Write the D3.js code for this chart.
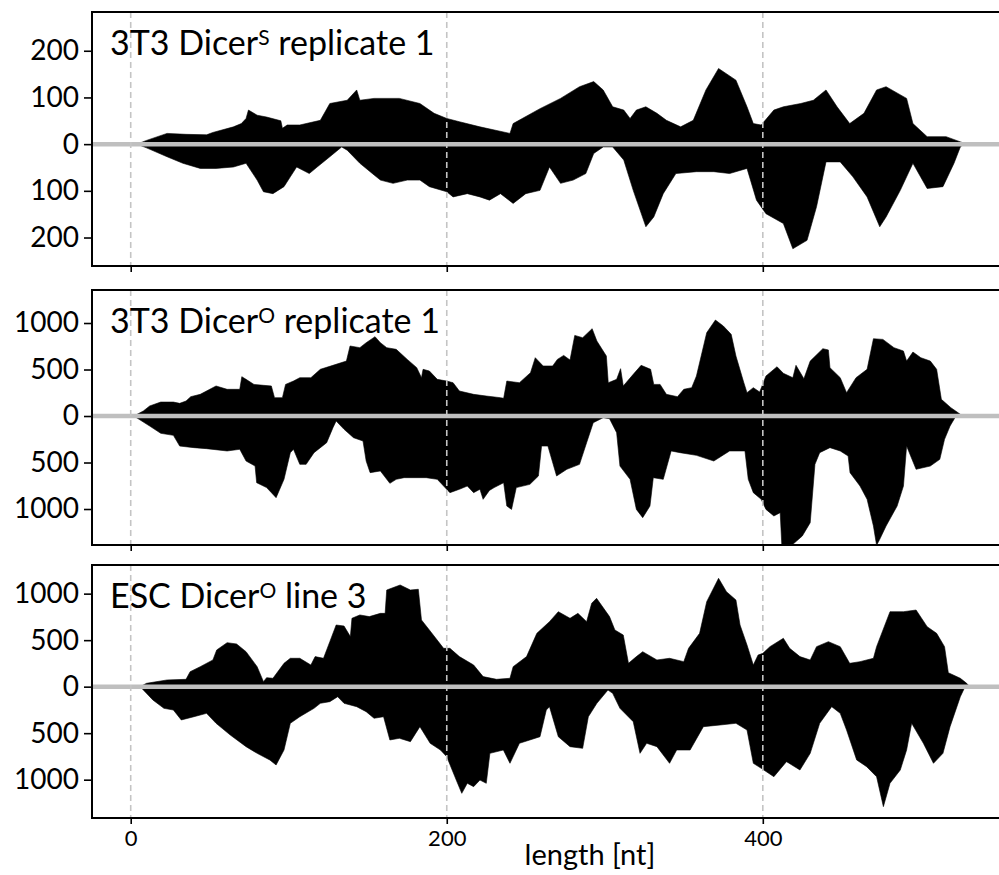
<!DOCTYPE html>
<html>
<head>
<meta charset="utf-8">
<script src="https://cdn.jsdelivr.net/npm/d3@7"></script>
<style>
  body { margin: 0; background: #fff; }
  svg { display: block; font-family: Lato, 'Open Sans', sans-serif; }
</style>
</head>
<body>
<div id="chart"></div>
<script>
// read counts per position [nt, reads]; lower strand stored as positive counts
const dicerSUpper = [[0,0],[4,0],[10,8],[23,23],[35,21],[48,20],[52,25],[65,37],[70,44],[73,55],[74.5,73],[80,62],[86,58],[95,50],[96,34],[99,41],[107,41],[120,51],[126,87],[137,94],[143,116],[145,94],[154,98],[170,98],[183,87],[192,66],[200,55],[208,48],[221,37],[240,23],[242,44],[259,76],[272,98],[284,123],[293,134],[299,116],[305,80],[312,73],[316,55],[320,73],[326,80],[333,66],[339,51],[348,37],[356,51],[364,116],[372,162],[383,137],[390,80],[394,44],[399,41],[407,73],[413,80],[424,87],[432,94],[440,116],[447,80],[455,44],[464,66],[472,116],[478,123],[491,98],[495,44],[504,16],[516,16],[529,0]];
const dicerSLower = [[0,0],[4,0],[10,8],[23,27],[33,41],[44,52],[54,52],[65,49],[73,41],[80,77],[84,102],[90,106],[97,91],[101,70],[105,49],[109,56],[113,63],[118,49],[126,27],[133.5,6],[137,13],[145,41],[154,66],[158,77],[166,84],[175,77],[183,77],[189,91],[200,102],[204,113],[213,106],[221,113],[227,120],[234,106],[242,127],[250,106],[259,99],[265,49],[272,84],[280,77],[288,63],[293,20],[299,6],[305,6],[312,34],[318,99],[326,177],[331,156],[337,106],[345,63],[358,59],[369,59],[379,63],[390,52],[396,120],[402,149],[413,170],[419,224],[428,206],[434,134],[440,38],[449,38],[457,70],[466,113],[474,177],[478,156],[487,99],[495,41],[504,95],[514,91],[521,41],[525,6],[527,0]];

const dicerOUpper = [[0,0],[2,0],[8,54],[12,108],[19,150],[27,150],[31,136],[35,161],[38,208],[44,233],[54,323],[61,287],[69,287],[70.3,423],[73,394],[78,340],[84,330],[89,323],[91,197],[96,197],[98,340],[103,376],[107,412],[114,412],[120,502],[128,545],[136.5,591],[138.8,753],[145,735],[149,788],[154.6,853],[158,788],[162,735],[168,717],[175,609],[181,520],[184,412],[185,502],[189,484],[194,394],[200,376],[204,358],[208,269],[217,233],[225,215],[234,197],[236,190],[238,376],[246,358],[253,466],[256,627],[261,538],[267,538],[270,609],[274,652],[278,602],[281,867],[286,842],[292,939],[295,806],[301,645],[302.2,358],[307.5,394],[310,509],[311.7,323],[318,448],[323,545],[329,502],[331,340],[335,340],[339,233],[346,208],[350,287],[355,305],[358,430],[361,645],[364.5,896],[370,1032],[375,968],[380,878],[383,645],[388,358],[390,251],[394,305],[398,258],[402,430],[409,530],[413,459],[419,412],[421,545],[426,401],[430,591],[438,724],[441.5,710],[442.5,520],[449,412],[453,251],[459,412],[466,502],[470,831],[476,824],[483,735],[489,699],[491,591],[495,688],[500,627],[506,591],[510,502],[513,179],[519,90],[525,18],[527,0]];
const dicerOLower = [[0,0],[2,0],[12,108],[19,186],[27,208],[31,323],[40,340],[48,351],[61,376],[69,358],[73,484],[78.7,538],[79.7,717],[86,770],[92,878],[97,681],[101,394],[103,358],[107,520],[111,520],[116,394],[124,287],[128,125],[130,54],[135,143],[141,233],[147,269],[149,484],[151.5,609],[158,591],[164,724],[168,681],[173,663],[187,663],[194,681],[198,753],[202,824],[208,788],[213,753],[217,824],[221,788],[223,896],[227,800],[230,770],[236,717],[238,968],[241,1004],[244,770],[252.6,735],[258,645],[260,323],[264,323],[269.5,645],[276,573],[284,520],[288.5,287],[292.7,72],[299,18],[303,29],[307.5,179],[309.6,538],[316,681],[320,1004],[324,1093],[328.6,968],[330.7,663],[337,681],[342,376],[347.6,394],[358,423],[369,484],[379,376],[388.7,376],[390.8,681],[394,824],[399,896],[402,1004],[407,1075],[411,1039],[412,1380],[419,1380],[425,1290],[430,1147],[433,520],[436,394],[442.5,340],[449,376],[454,430],[455.2,609],[461.5,753],[466,896],[470,1183],[472,1390],[474,1326],[478,1183],[485,968],[489,753],[491,323],[497,573],[506,538],[512,466],[515,251],[518.5,108],[521.6,18],[523,0]];

const escUpper = [[0,0],[6,0],[10,36],[23,72],[35,79],[37.6,161],[44,215],[52,287],[54.4,394],[61,473],[67,459],[73,376],[80,215],[84,54],[86,97],[90,90],[97,251],[101,305],[107,305],[114,233],[116.7,323],[122,305],[126,484],[130,663],[135,652],[139,538],[140,735],[145,771],[151,753],[158,788],[161,788],[162,1039],[170.5,1093],[177,1039],[182,1047],[184,717],[189,609],[198,412],[202,412],[208,323],[217,233],[223,108],[231.5,79],[240,90],[242,215],[250.5,323],[257,573],[265,699],[270.6,806],[278,735],[283,788],[288.5,699],[291.7,896],[294.8,950],[303,753],[306.4,609],[311.7,555],[315,251],[320,323],[324,376],[333,287],[341,305],[350,269],[353,412],[360,573],[364.5,914],[372,1165],[377,1021],[383,932],[385.6,663],[390,448],[394,233],[397,340],[400,358],[404.5,430],[413,520],[417,412],[423.5,323],[430,287],[434,430],[441.5,484],[449,430],[455,251],[461.5,269],[470,305],[472,430],[480.5,806],[489,806],[497,824],[504,645],[510,573],[515,430],[517.4,150],[525,90],[529,36],[531,0]];
const escLower = [[0,0],[6,0],[14,143],[21,233],[27,251],[32,358],[40,323],[48,287],[54,394],[63,520],[73,645],[80,717],[88,788],[92,842],[97,681],[101,394],[107,323],[116,233],[120,179],[126,161],[131,108],[135,179],[143,215],[149,269],[154,340],[160,323],[164,573],[170,555],[177,591],[183,430],[189.5,609],[196,681],[200,753],[206,1004],[209.5,1147],[213,1039],[217,1075],[221,1004],[225,1039],[227.3,717],[235.8,681],[240,824],[246,609],[252.6,573],[259,538],[263,251],[265,215],[270.6,538],[278,645],[286,663],[289.6,323],[295,179],[302,36],[305,72],[309.6,233],[318,376],[322.3,717],[326.5,609],[333,645],[341,824],[345.5,681],[354,681],[362.4,430],[373,412],[383,394],[390,466],[394,824],[399,878],[407,968],[415,806],[423.5,896],[430,717],[436,394],[443.6,215],[449,287],[453,466],[459.4,788],[465.7,860],[472,968],[476.3,1290],[480.5,1039],[487,896],[491,681],[494.2,394],[501.6,609],[508,824],[514,717],[518.5,430],[525,108],[528,0]];

const smallTicks = [-200, -100, 0, 100, 200];
const largeTicks = [-1000, -500, 0, 500, 1000];
const xTicks = [0, 200, 400];
const xLabel = 'length [nt]';

const panels = [
  { name: '3T3 Dicer', sup: 'S', tail: ' replicate 1', upper: dicerSUpper, lower: dicerSLower,
    yDomain: [-261, 283], ticks: smallTicks, top: 12, bottom: 266 },
  { name: '3T3 Dicer', sup: 'O', tail: ' replicate 1', upper: dicerOUpper, lower: dicerOLower,
    yDomain: [-1387, 1355], ticks: largeTicks, top: 290, bottom: 545 },
  { name: 'ESC Dicer', sup: 'O', tail: ' line 3', upper: escUpper, lower: escLower,
    yDomain: [-1412, 1308], ticks: largeTicks, top: 565, bottom: 818 }
];

const width = 999;
const height = 875;
const left = 92;
const right = 1003;

const svg = d3.select('#chart')
  .append('svg')
  .attr('width', width)
  .attr('height', height);

const x = d3.scaleLinear()
  .domain([-24.5, 552])
  .range([left, right]);

panels.forEach((p, i) => {
  const y = d3.scaleLinear()
    .domain(p.yDomain)
    .range([p.bottom, p.top]);

  const g = svg.append('g');
  const clipId = `clip-${i}`;

  g.append('clipPath')
    .attr('id', clipId)
    .append('rect')
    .attr('x', left)
    .attr('y', p.top)
    .attr('width', right - left)
    .attr('height', p.bottom - p.top);

  const plot = g.append('g').attr('clip-path', `url(#${clipId})`);

  const upperArea = d3.area()
    .x(d => x(d[0]))
    .y0(y(0))
    .y1(d => y(d[1]));

  const lowerArea = d3.area()
    .x(d => x(d[0]))
    .y0(y(0))
    .y1(d => y(-d[1]));

  plot.append('path')
    .datum(p.upper)
    .attr('d', upperArea)
    .attr('fill', '#000')
    .attr('stroke', '#000')
    .attr('stroke-width', 0.6);

  plot.append('path')
    .datum(p.lower)
    .attr('d', lowerArea)
    .attr('fill', '#000')
    .attr('stroke', '#000')
    .attr('stroke-width', 0.6);

  plot.append('line')
    .attr('x1', left)
    .attr('x2', right)
    .attr('y1', y(0))
    .attr('y2', y(0))
    .attr('stroke', '#bfbfbf')
    .attr('stroke-width', 4.5);

  plot.selectAll('line.grid')
    .data(xTicks)
    .join('line')
    .attr('class', 'grid')
    .attr('x1', d => x(d))
    .attr('x2', d => x(d))
    .attr('y1', p.top)
    .attr('y2', p.bottom)
    .attr('stroke', '#c4c4c4')
    .attr('stroke-width', 1.6)
    .attr('stroke-dasharray', '6,4');

  // y axis
  const yAxis = g.append('g')
    .attr('transform', `translate(${left},0)`)
    .call(d3.axisLeft(y)
      .tickValues(p.ticks)
      .tickFormat(d => Math.abs(d))
      .tickSize(8)
      .tickPadding(5));

  yAxis.select('.domain').remove();
  yAxis.selectAll('.tick line').attr('stroke', '#000').attr('stroke-width', 1.6);
  yAxis.selectAll('.tick text')
    .attr('fill', '#000')
    .style('font-size', '28px')
    .style('font-family', 'Lato, sans-serif');

  // x axis ticks on every panel, labels only on the last
  const last = i === panels.length - 1;
  const xAxis = g.append('g')
    .attr('transform', `translate(0,${p.bottom})`)
    .call(d3.axisBottom(x)
      .tickValues(xTicks)
      .tickFormat(last ? d3.format('d') : '')
      .tickSize(6)
      .tickPadding(6));

  xAxis.select('.domain').remove();
  xAxis.selectAll('.tick line').attr('stroke', '#000').attr('stroke-width', 1.6);
  xAxis.selectAll('.tick text')
    .attr('fill', '#000')
    .style('font-size', '22px')
    .style('font-family', 'Lato, sans-serif');

  // frame
  g.append('rect')
    .attr('x', left)
    .attr('y', p.top)
    .attr('width', right - left)
    .attr('height', p.bottom - p.top)
    .attr('fill', 'none')
    .attr('stroke', '#000')
    .attr('stroke-width', 2);

  const title = g.append('text')
    .attr('x', 110)
    .attr('y', p.top + 43)
    .style('font-size', '34px');

  title.append('tspan').text(p.name);
  title.append('tspan')
    .attr('dy', -10)
    .style('font-size', '21px')
    .text(p.sup);
  title.append('tspan')
    .attr('dy', 10)
    .text(p.tail);
});

svg.append('text')
  .attr('x', 590)
  .attr('y', 865)
  .attr('text-anchor', 'middle')
  .style('font-size', '29px')
  .text(xLabel);
</script>
</body>
</html>
